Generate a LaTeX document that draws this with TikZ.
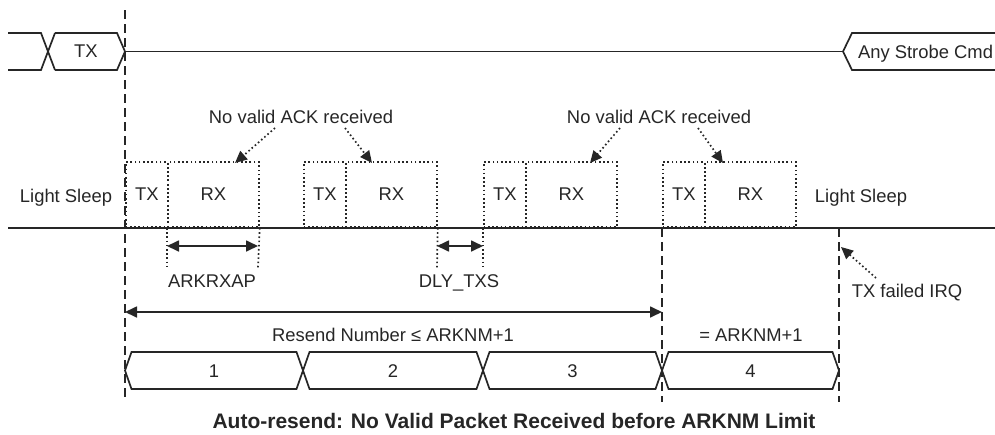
\documentclass[tikz,border=0pt]{standalone}
\usepackage{fontspec}
\setmainfont{Liberation Sans}
\usetikzlibrary{arrows.meta}
\begin{document}
\begin{tikzpicture}[x=1pt,y=-1pt,
  every node/.style={font=\fontsize{18.4}{22}\selectfont, inner sep=0pt, text=black!85},
  sig/.style={line width=1.7pt, draw=black!85, line join=miter},
  dline/.style={line width=1.7pt, draw=black!85, dash pattern=on 9pt off 5pt},
  dotl/.style={line width=1.7pt, draw=black!85, dash pattern=on 1.6pt off 2.6pt},
  dotbox/.style={dotl, minimum height=65pt, anchor=south west},
  solidtip/.style={-{Triangle[length=12pt,width=11pt]}},
  bothtips/.style={{Triangle[length=12pt,width=11pt]}-{Triangle[length=12pt,width=11pt]}},
  lbl/.style={anchor=base}
]
\useasboundingbox (0,0) rectangle (995,434);

% ---- top signal ----
\draw[sig] (8,33) -- (41,33) -- (55,70);
\draw[sig] (8,70) -- (41,70) -- (55,33);
\draw[sig] (55,33) -- (117,33) -- (125,51.5) -- (117,70) -- (55,70);
\node[lbl] (txtop) at (86,57) {TX};
\coordinate (tiptx) at (125,51.5);
\coordinate (tipstrobe) at (843,51.5);
\draw[sig] (tiptx) -- (tipstrobe);
\draw[sig] (1000,33) -- (852,33) -- (tipstrobe) -- (852,70) -- (1000,70);
\node[lbl] (strobe) at (925.5,58) {Any Strobe Cmd};

% ---- dashed verticals ----
\coordinate (d1t) at (125,10);   \coordinate (d1b) at (125,400);
\coordinate (d2t) at (662,228);  \coordinate (d2b) at (662,402);
\coordinate (d3t) at (839,228);  \coordinate (d3b) at (839,402);
\draw[dline] (d1t) -- (d1b);
\draw[dline] (d2t) -- (d2b);
\draw[dline] (d3t) -- (d3b);

% ---- dotted TX/RX boxes ----
\node[dotbox, minimum width=42pt] (tx1) at (125,228) {TX};
\node[dotbox, minimum width=91pt] (rx1) at (167,228) {RX};
\node[dotbox, minimum width=42pt] (tx2) at (303,228) {TX};
\node[dotbox, minimum width=91pt] (rx2) at (345,228) {RX};
\node[dotbox, minimum width=42pt] (tx3) at (483,228) {TX};
\node[dotbox, minimum width=91pt] (rx3) at (525,228) {RX};
\node[dotbox, minimum width=42pt] (tx4) at (662,228) {TX};
\node[dotbox, minimum width=91pt] (rx4) at (704,228) {RX};

% ---- baseline ----
\coordinate (bl) at (8,228); \coordinate (br) at (995,228);
\draw[sig] (bl) -- (br);

\node[lbl] (ls1) at (66,202) {Light Sleep};
\node[lbl] (ls2) at (861,202) {Light Sleep};

% ---- No valid ACK labels ----
\node[lbl] (ack1) at (301,123) {No valid ACK received};
\node[lbl] (ack2) at (659,123) {No valid ACK received};
\coordinate (a1s) at (275,128); \coordinate (a1e) at (235,163);
\coordinate (a2s) at (345,128); \coordinate (a2e) at (372,163);
\coordinate (a3s) at (620,128); \coordinate (a3e) at (590,163);
\coordinate (a4s) at (698,128); \coordinate (a4e) at (723,163);
\draw[dotl, solidtip] (a1s) -- (a1e);
\draw[dotl, solidtip] (a2s) -- (a2e);
\draw[dotl, solidtip] (a3s) -- (a3e);
\draw[dotl, solidtip] (a4s) -- (a4e);

% ---- ARKRXAP / DLY_TXS ----
\coordinate (e1) at (167,268); \coordinate (e2) at (258,268);
\coordinate (e3) at (437,268); \coordinate (e4) at (483,268);
\draw[dotl] (rx1.south west) -- (e1);
\draw[dotl] (rx1.south east) -- (e2);
\draw[dotl] (rx2.south east) -- (e3);
\draw[dotl] (tx3.south west) -- (e4);
\coordinate (k1) at (167,246); \coordinate (k2) at (258,246);
\coordinate (k3) at (437,246); \coordinate (k4) at (483,246);
\draw[sig, bothtips, line join=round] (k1) -- (k2);
\draw[sig, bothtips, line join=round] (k3) -- (k4);
\node[lbl] (arkrxap) at (212,287) {ARKRXAP};
\node[lbl] (dlytxs) at (459,287) {DLY\_TXS};

% ---- TX failed IRQ ----
\node[lbl] (irq) at (907,297) {TX failed IRQ};
\coordinate (i1) at (876,278); \coordinate (i2) at (841,247);
\draw[dotl, solidtip] (i1) -- (i2);

% ---- Resend arrow ----
\coordinate (r1) at (125,312); \coordinate (r2) at (662,312);
\draw[sig, bothtips] (r1) -- (r2);
\node[lbl] (resend) at (393,341) {Resend Number ≤ ARKNM+1};
\node[lbl] (eqark) at (751,341) {= ARKNM+1};

% ---- bus ----
\foreach \a/\b/\n in {125/303/1,303/483/2,483/662/3,662/839/4}{
  \draw[sig] (\a,370.5) -- (\a+6.5,352) -- (\b-6.5,352) -- (\b,370.5)
             -- (\b-6.5,389) -- (\a+6.5,389) -- cycle;
  \node[lbl] (seg\n) at ({(\a+\b)/2},377) {\n};
}

% ---- caption ----
\node[lbl, font=\fontsize{21}{25}\selectfont\bfseries] (caption) at (514,428.5)
  {Auto-resend: No Valid Packet Received before ARKNM Limit};
\end{tikzpicture}
\end{document}
